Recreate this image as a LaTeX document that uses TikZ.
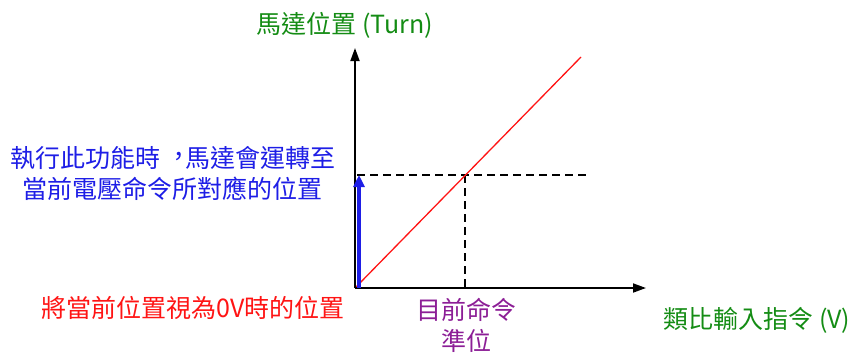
\documentclass[tikz,border=0pt]{standalone}
\usepackage{fontspec}
\setmainfont{Noto Sans CJK TC}[Script=CJK, Language=Chinese Traditional]
\usetikzlibrary{arrows.meta}
\definecolor{lblgreen}{RGB}{20,140,20}
\definecolor{lblblue}{RGB}{30,30,230}
\definecolor{lblred}{RGB}{255,20,20}
\definecolor{lblpurple}{RGB}{140,30,150}
\newcommand{\tccomma}{\makebox[1em][l]{\hspace{0.24em}\raisebox{0.08em}{\makebox[0.76em][l]{，}}}}
\tikzset{
  lbl/.style={inner sep=0pt, align=center, font=\fontsize{25}{31}\selectfont},
  axis/.style={line width=1.8pt, black, -{Triangle[length=13pt,width=9pt]}},
  guide/.style={line width=1.5pt, black, dash pattern=on 8pt off 5pt},
}
\begin{document}
\begin{tikzpicture}[x=1pt,y=-1pt]
\useasboundingbox (0,0) rectangle (854,354);
\coordinate (O) at (355,288);
\coordinate (ytop) at (355,48);
\coordinate (xend) at (646,288);
\coordinate (rs) at (356,287);
\coordinate (re) at (581,57);
\coordinate (P) at (465,175);
\coordinate (hs) at (357,175);
\coordinate (he) at (590,175);
\coordinate (vb) at (465,288);
\coordinate (bs) at (359,288);
\coordinate (bt) at (359,175);
% guides
\draw[guide] (hs) -- (he);
\draw[guide] (P) -- (vb);
% red line
\draw[lblred, line width=1.3pt] (rs) -- (re);
% axes
\draw[axis] (O) -- (ytop);
\draw[axis] (O) -- (xend);
% blue arrow
\draw[lblblue, line width=3.5pt, -{Triangle[length=12pt,width=11pt]}] (bs) -- (bt);
% labels
\node[lbl, text=lblgreen] (ylab) at (345,25) {馬達位置 (Turn)};
\node[lbl, text=lblgreen] (xlab) at (757,320) {類比輸入指令 (V)};
\node[lbl, text=lblblue] (desc) at (173,173.5) {執行此功能時\tccomma 馬達會運轉至\\當前電壓命令所對應的位置};
\node[lbl, text=lblred] (zero) at (193,307.5) {將當前位置視為0V時的位置};
\node[lbl, text=lblpurple] (cmd) at (466,325.5) {目前命令\\準位};
\end{tikzpicture}
\end{document}
